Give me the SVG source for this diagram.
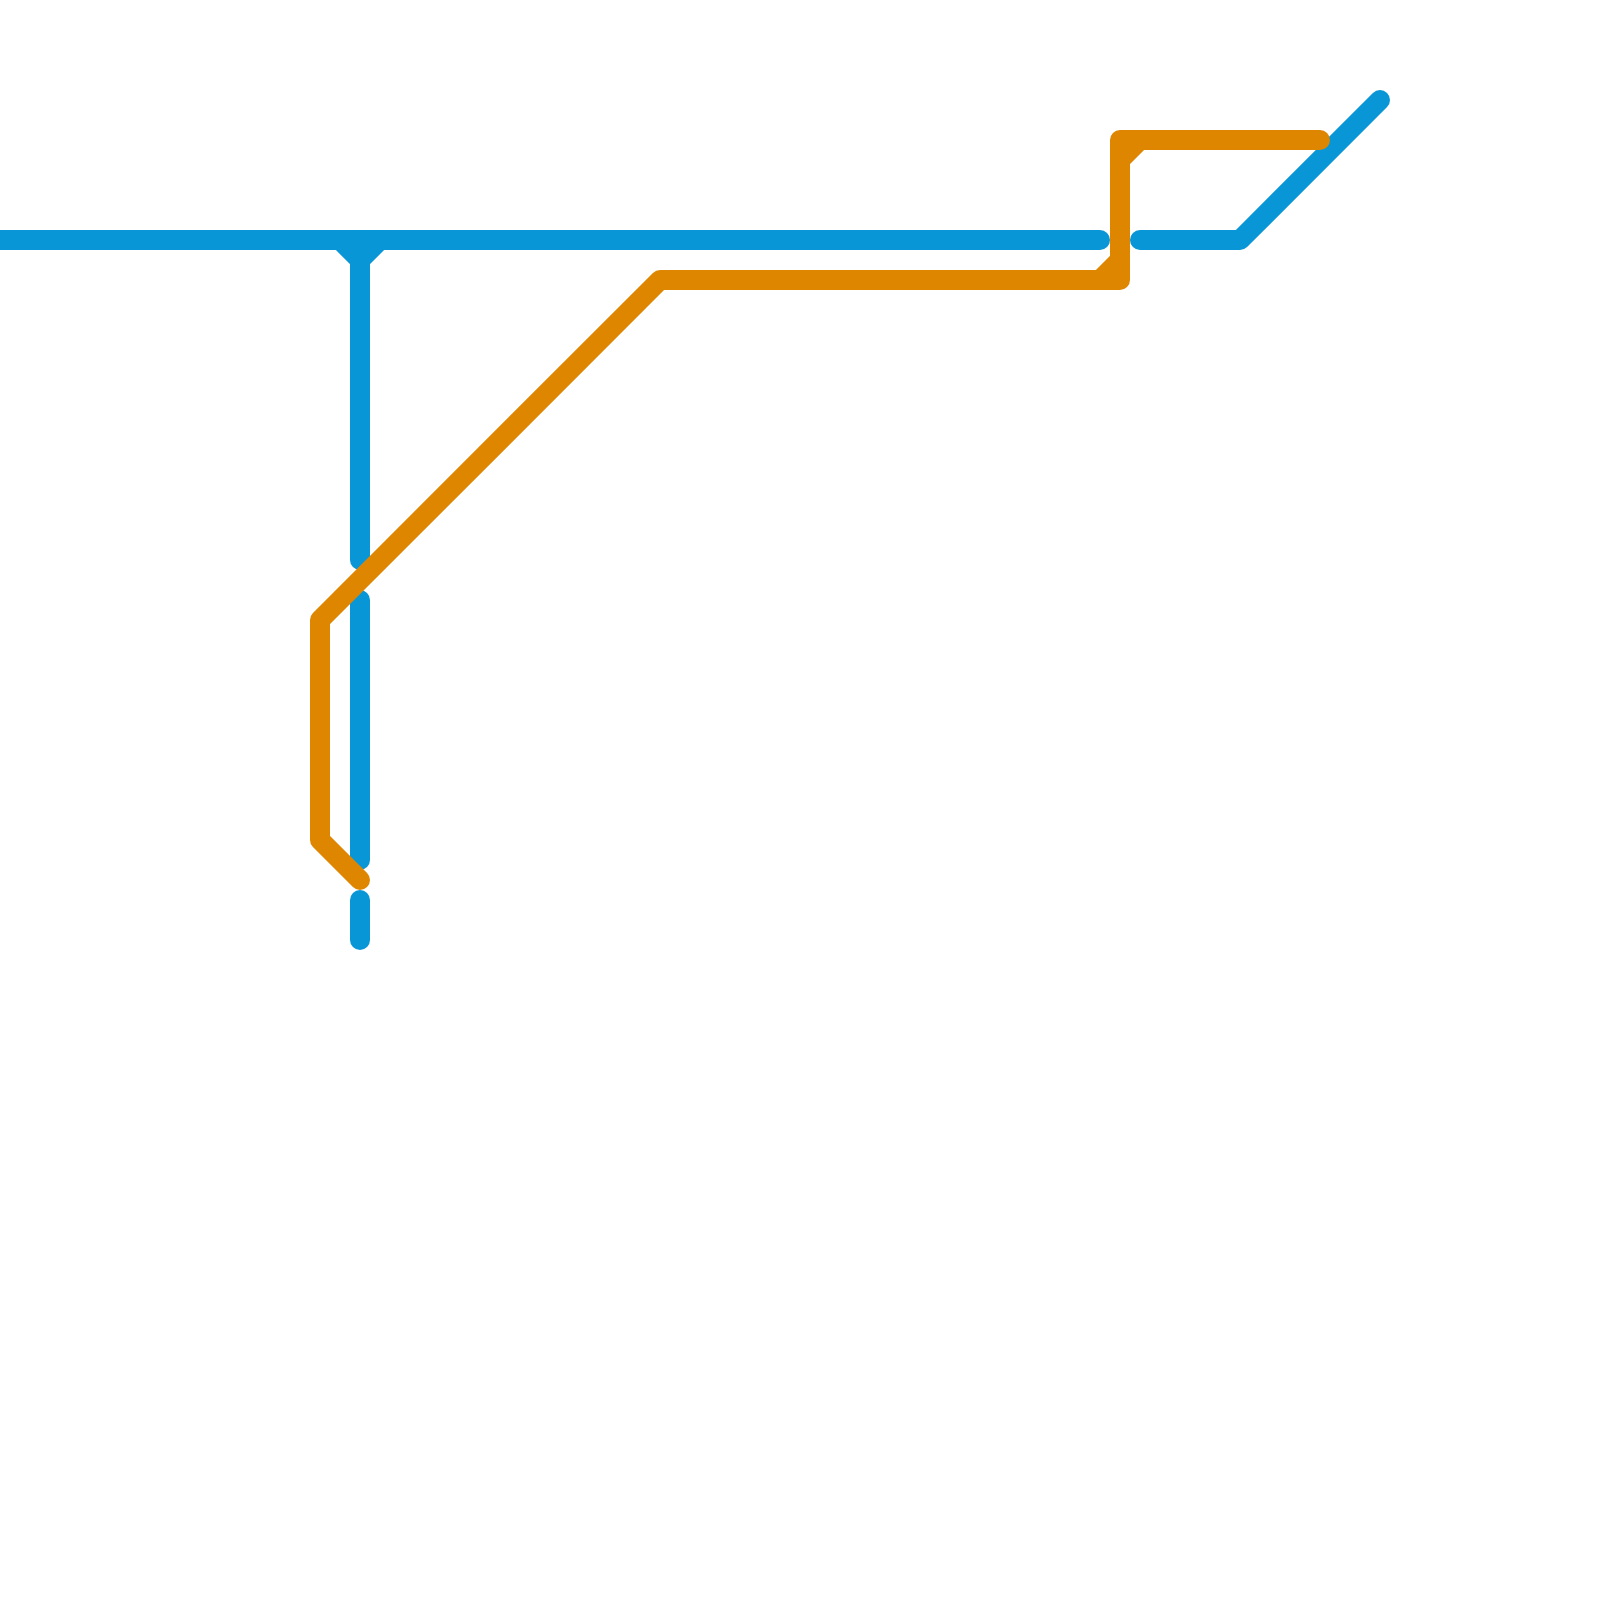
<svg xmlns="http://www.w3.org/2000/svg" width="1600" height="1600" viewBox="0 0 1600 1600">
<style>
.line{fill:none;stroke-width:20;stroke-linecap:round;stroke-linejoin:round}
.blue{stroke:#0896d7}
.orange{stroke:#df8600}
</style>
<rect width="1600" height="1600" fill="#ffffff"/>
<g id="connectors">
<g id="blue-line" class="line blue">
<path d="M-20 240H1100"/>
<path d="M1140 240H1240L1380 100"/>
<path d="M340 240L360 260L380 240"/>
<path d="M360 240V560"/>
<path d="M360 600V860"/>
<path d="M360 900V940"/>
</g>
<g id="orange-line" class="line orange">
<path d="M360 880L320 840V620L660 280H1120V140H1320"/>
<path d="M1100 280L1120 260"/>
<path d="M1120 160L1140 140"/>
</g>
</g>
</svg>
